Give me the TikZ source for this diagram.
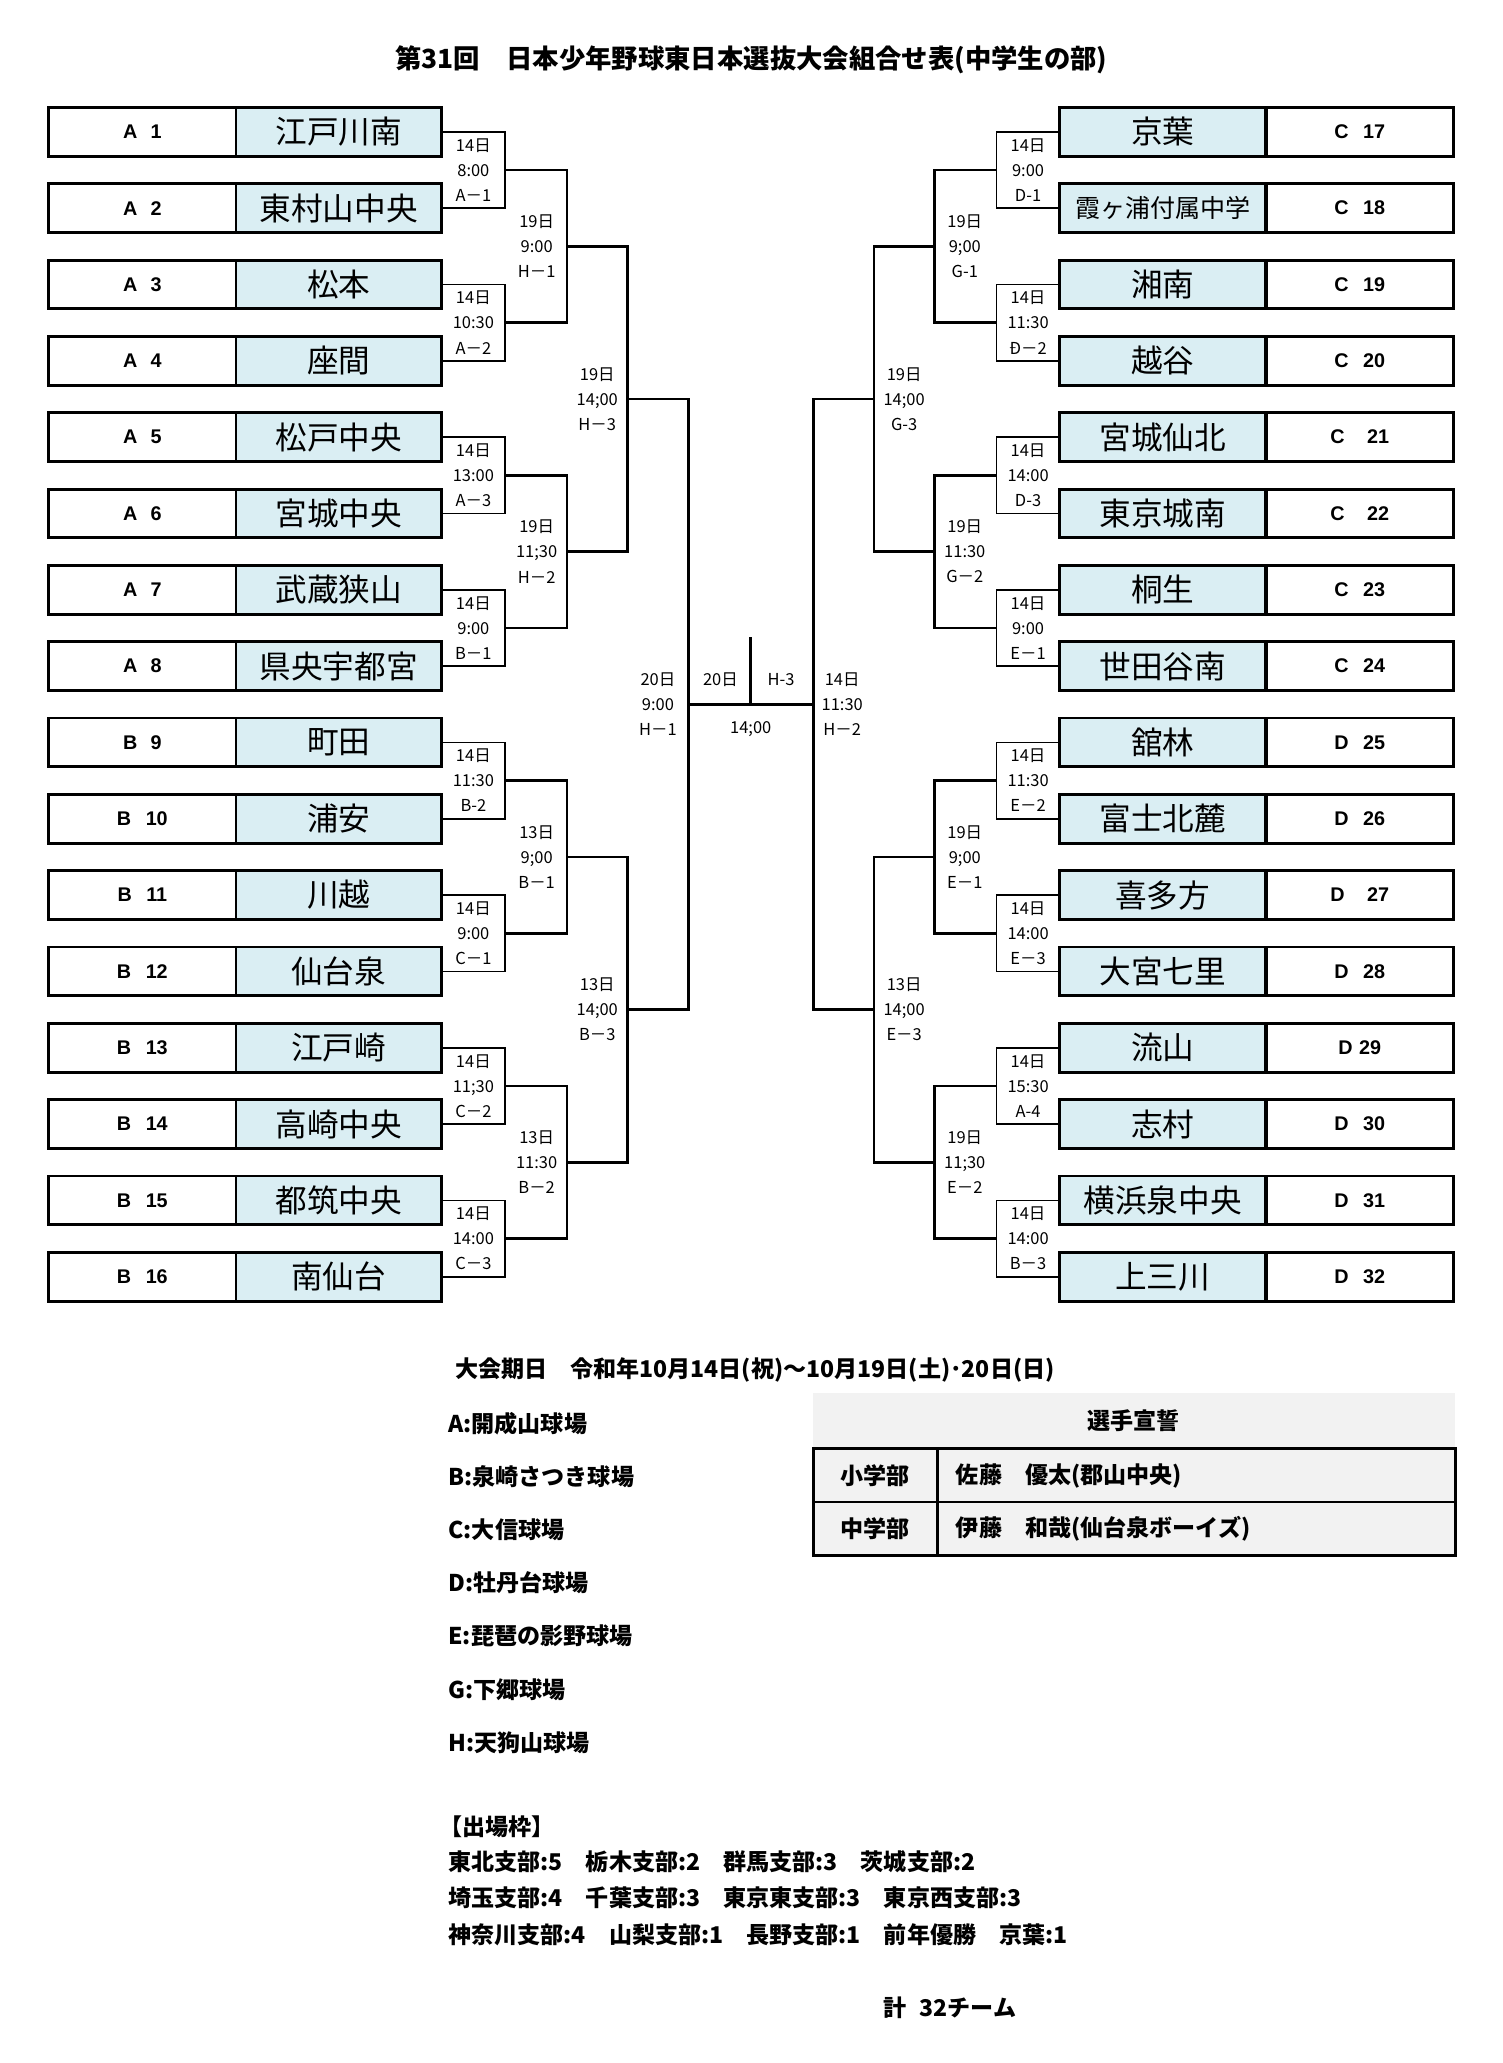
\documentclass[tikz,border=0pt]{standalone}
\usepackage{fontspec}
\usepackage{tikz}
\usetikzlibrary{calc}
\newfontfamily\jp{Noto Sans CJK JP}
\newfontfamily\lat{Liberation Sans}
\definecolor{namebg}{RGB}{218,238,243}
\definecolor{cellbg}{RGB}{242,242,242}

\begin{document}
\begin{tikzpicture}[x=1pt,y=-1pt,
  seed/.style={draw,line width=2.2pt,minimum width=142pt,minimum height=37pt,inner sep=0pt,
    font=\lat\bfseries\fontsize{15}{15}\selectfont},
  team/.style={draw,fill=namebg,line width=2.2pt,minimum width=156pt,minimum height=37pt,inner sep=0pt,
    font=\jp\fontsize{24}{24}\selectfont},
  info/.style={align=center,inner sep=0pt,font=\jp\fontsize{12.5}{19}\selectfont},
  rd1/.style={line width=1.3pt},
  rd/.style={line width=2pt},
  note/.style={anchor=west,inner sep=0pt,font=\jp\bfseries\fontsize{17.5}{17.5}\selectfont}]
\fill[white] (0,0) rectangle (1140,1565);
\useasboundingbox (0,0) rectangle (1140,1565);

\node[font=\jp\bfseries\fontsize{20}{20}\selectfont] (title) at (570,45)
  {第31回　日本少年野球東日本選抜大会組合せ表(中学生の部)};

% left half
\foreach \i/\sd/\nm in {1/{A\hspace{10pt}1}/江戸川南, 2/{A\hspace{10pt}2}/東村山中央,
    3/{A\hspace{10pt}3}/松本, 4/{A\hspace{10pt}4}/座間, 5/{A\hspace{10pt}5}/松戸中央,
    6/{A\hspace{10pt}6}/宮城中央, 7/{A\hspace{10pt}7}/武蔵狭山, 8/{A\hspace{10pt}8}/県央宇都宮,
    9/{B\hspace{10pt}9}/町田, 10/{B\hspace{11pt}10}/浦安, 11/{B\hspace{11pt}11}/川越,
    12/{B\hspace{11pt}12}/仙台泉, 13/{B\hspace{11pt}13}/江戸崎, 14/{B\hspace{11pt}14}/高崎中央,
    15/{B\hspace{11pt}15}/都筑中央, 16/{B\hspace{11pt}16}/南仙台}{
  \node[seed] (s\i) at (108,{100+57.9*(\i-1)}) {\sd};
  \node[team] (t\i) at (257,{100+57.9*(\i-1)}) {\nm};
}

% right half
\foreach \i/\sd/\nm in {17/{C\hspace{11pt}17}/京葉,
    18/{C\hspace{11pt}18}/{\fontsize{19}{19}\selectfont 霞ヶ浦付属中学},
    19/{C\hspace{11pt}19}/湘南, 20/{C\hspace{11pt}20}/越谷, 21/{C\hspace{17pt}21}/宮城仙北,
    22/{C\hspace{17pt}22}/東京城南, 23/{C\hspace{11pt}23}/桐生, 24/{C\hspace{11pt}24}/世田谷南,
    25/{D\hspace{11pt}25}/舘林, 26/{D\hspace{11pt}26}/富士北麓, 27/{D\hspace{17pt}27}/喜多方,
    28/{D\hspace{11pt}28}/大宮七里, 29/{D\hspace{5pt}29}/流山, 30/{D\hspace{11pt}30}/志村,
    31/{D\hspace{11pt}31}/横浜泉中央, 32/{D\hspace{11pt}32}/上三川}{
  \node[team] (t\i) at (882,{100+57.9*(\i-17)}) {\nm};
  \node[seed] (s\i) at (1031.5,{100+57.9*(\i-17)}) {\sd};
}

\foreach \k in {1,...,8}{
  \pgfmathtruncatemacro\ta{2*\k-1}
  \pgfmathtruncatemacro\tb{2*\k}
  \coordinate (l1\k) at ($(t\ta.east)!.5!(t\tb.east)+(47,0)$);
  \draw[rd1] (t\ta.east) -| (l1\k) |- (t\tb.east);
  \pgfmathtruncatemacro\ta{2*\k+15}
  \pgfmathtruncatemacro\tb{2*\k+16}
  \coordinate (r1\k) at ($(t\ta.west)!.5!(t\tb.west)+(-47,0)$);
  \draw[rd1] (t\ta.west) -| (r1\k) |- (t\tb.west);
}
\foreach \k in {1,...,4}{
  \pgfmathtruncatemacro\ta{2*\k-1}
  \pgfmathtruncatemacro\tb{2*\k}
  \coordinate (l2\k) at ($(l1\ta)!.5!(l1\tb)+(47,0)$);
  \draw[rd] (l1\ta) -| (l2\k) |- (l1\tb);
  \coordinate (r2\k) at ($(r1\ta)!.5!(r1\tb)+(-47,0)$);
  \draw[rd] (r1\ta) -| (r2\k) |- (r1\tb);
}
\foreach \k in {1,2}{
  \pgfmathtruncatemacro\ta{2*\k-1}
  \pgfmathtruncatemacro\tb{2*\k}
  \coordinate (l3\k) at ($(l2\ta)!.5!(l2\tb)+(46,0)$);
  \draw[rd] (l2\ta) -| (l3\k) |- (l2\tb);
  \coordinate (r3\k) at ($(r2\ta)!.5!(r2\tb)+(-46,0)$);
  \draw[rd] (r2\ta) -| (r3\k) |- (r2\tb);
}
\coordinate (l4) at ($(l31)!.5!(l32)+(46,0)$);
\coordinate (r4) at ($(r31)!.5!(r32)+(-46,0)$);
\draw[rd] (l31) -| (l4) |- (l32);
\draw[rd] (r31) -| (r4) |- (r32);
\draw[rd] (l4) -- (r4);
\coordinate (fin) at ($(l4)!.5!(r4)$);
\coordinate (cup) at ($(fin)+(0,-51)$);
\draw[rd] (cup) -- (fin);

% match labels
\foreach \k/\txt in {1/{14日\\8:00\\A－1}, 2/{14日\\10:30\\A－2}, 3/{14日\\13:00\\A－3},
    4/{14日\\9:00\\B－1}, 5/{14日\\11:30\\B-2}, 6/{14日\\9:00\\C－1},
    7/{14日\\11;30\\C－2}, 8/{14日\\14:00\\C－3}}
  \node[info] (la\k) at ($(l1\k)+(-24,0)$) {\txt};
\foreach \k/\txt in {1/{14日\\9:00\\D-1}, 2/{14日\\11:30\\Ð－2}, 3/{14日\\14:00\\D-3},
    4/{14日\\9:00\\E－1}, 5/{14日\\11:30\\E－2}, 6/{14日\\14:00\\E－3},
    7/{14日\\15:30\\A-4}, 8/{14日\\14:00\\B－3}}
  \node[info] (ra\k) at ($(r1\k)+(24,0)$) {\txt};
\foreach \k/\txt in {1/{19日\\9:00\\H－1}, 2/{19日\\11;30\\H－2},
    3/{13日\\9;00\\B－1}, 4/{13日\\11:30\\B－2}}
  \node[info] (lb\k) at ($(l2\k)+(-23,0)$) {\txt};
\foreach \k/\txt in {1/{19日\\9;00\\G-1}, 2/{19日\\11:30\\G－2},
    3/{19日\\9;00\\E－1}, 4/{19日\\11;30\\E－2}}
  \node[info] (rb\k) at ($(r2\k)+(23,0)$) {\txt};
\node[info] (lc1) at ($(l31)+(-23,0)$) {19日\\14;00\\H－3};
\node[info] (lc2) at ($(l32)+(-23,0)$) {13日\\14;00\\B－3};
\node[info] (rc1) at ($(r31)+(23,0)$) {19日\\14;00\\G-3};
\node[info] (rc2) at ($(r32)+(23,0)$) {13日\\14;00\\E－3};
\node[info] (ld) at ($(l4)+(-23,0)$) {20日\\9:00\\H－1};
\node[info] (rd) at ($(r4)+(22,0)$) {14日\\11:30\\H－2};
\node[info] (fday) at ($(fin)+(-23,-19)$) {20日};
\node[info] (fcode) at ($(fin)+(23,-19)$) {H-3};
\node[info] (ftime) at ($(fin)+(0,19)$) {14;00};

% notes
\node[note] (dates) at (345,1039) {大会期日　令和年10月14日(祝)～10月19日(土)･20日(日)};
\foreach \j/\txt in {0/A:開成山球場, 1/B:泉崎さつき球場, 2/C:大信球場, 3/D:牡丹台球場,
    4/E:琵琶の影野球場, 5/G:下郷球場, 6/H:天狗山球場}
  \node[note] (v\j) at (340,{1080+40.3*\j}) {\txt};

\fill[cellbg] (617,1057) rectangle (1104,1180);
\draw[line width=2pt] (617,1099) rectangle (1104,1180);
\draw[line width=2pt] (617,1139.5) -- (1104,1139.5);
\draw[line width=2pt] (711,1099) -- (711,1180);
\node[note,anchor=center] (oath) at (860,1078) {選手宣誓};
\node[note,anchor=center] (jr) at (664,1119.5) {小学部};
\node[note,anchor=center] (sr) at (664,1160) {中学部};
\node[note] (jrname) at (725,1119.5) {佐藤　優太(郡山中央)};
\node[note] (srname) at (725,1160) {伊藤　和哉(仙台泉ボーイズ)};

\node[note] (quota) at (333,1386) {【出場枠】};
\node[note] (q1) at (340,1412) {東北支部:5　栃木支部:2　群馬支部:3　茨城支部:2};
\node[note] (q2) at (340,1440) {埼玉支部:4　千葉支部:3　東京東支部:3　東京西支部:3};
\node[note] (q3) at (340,1468) {神奈川支部:4　山梨支部:1　長野支部:1　前年優勝　京葉:1};
\node[note] (total) at (670,1523) {計\hspace{10pt}32チーム};
\end{tikzpicture}
\end{document}
